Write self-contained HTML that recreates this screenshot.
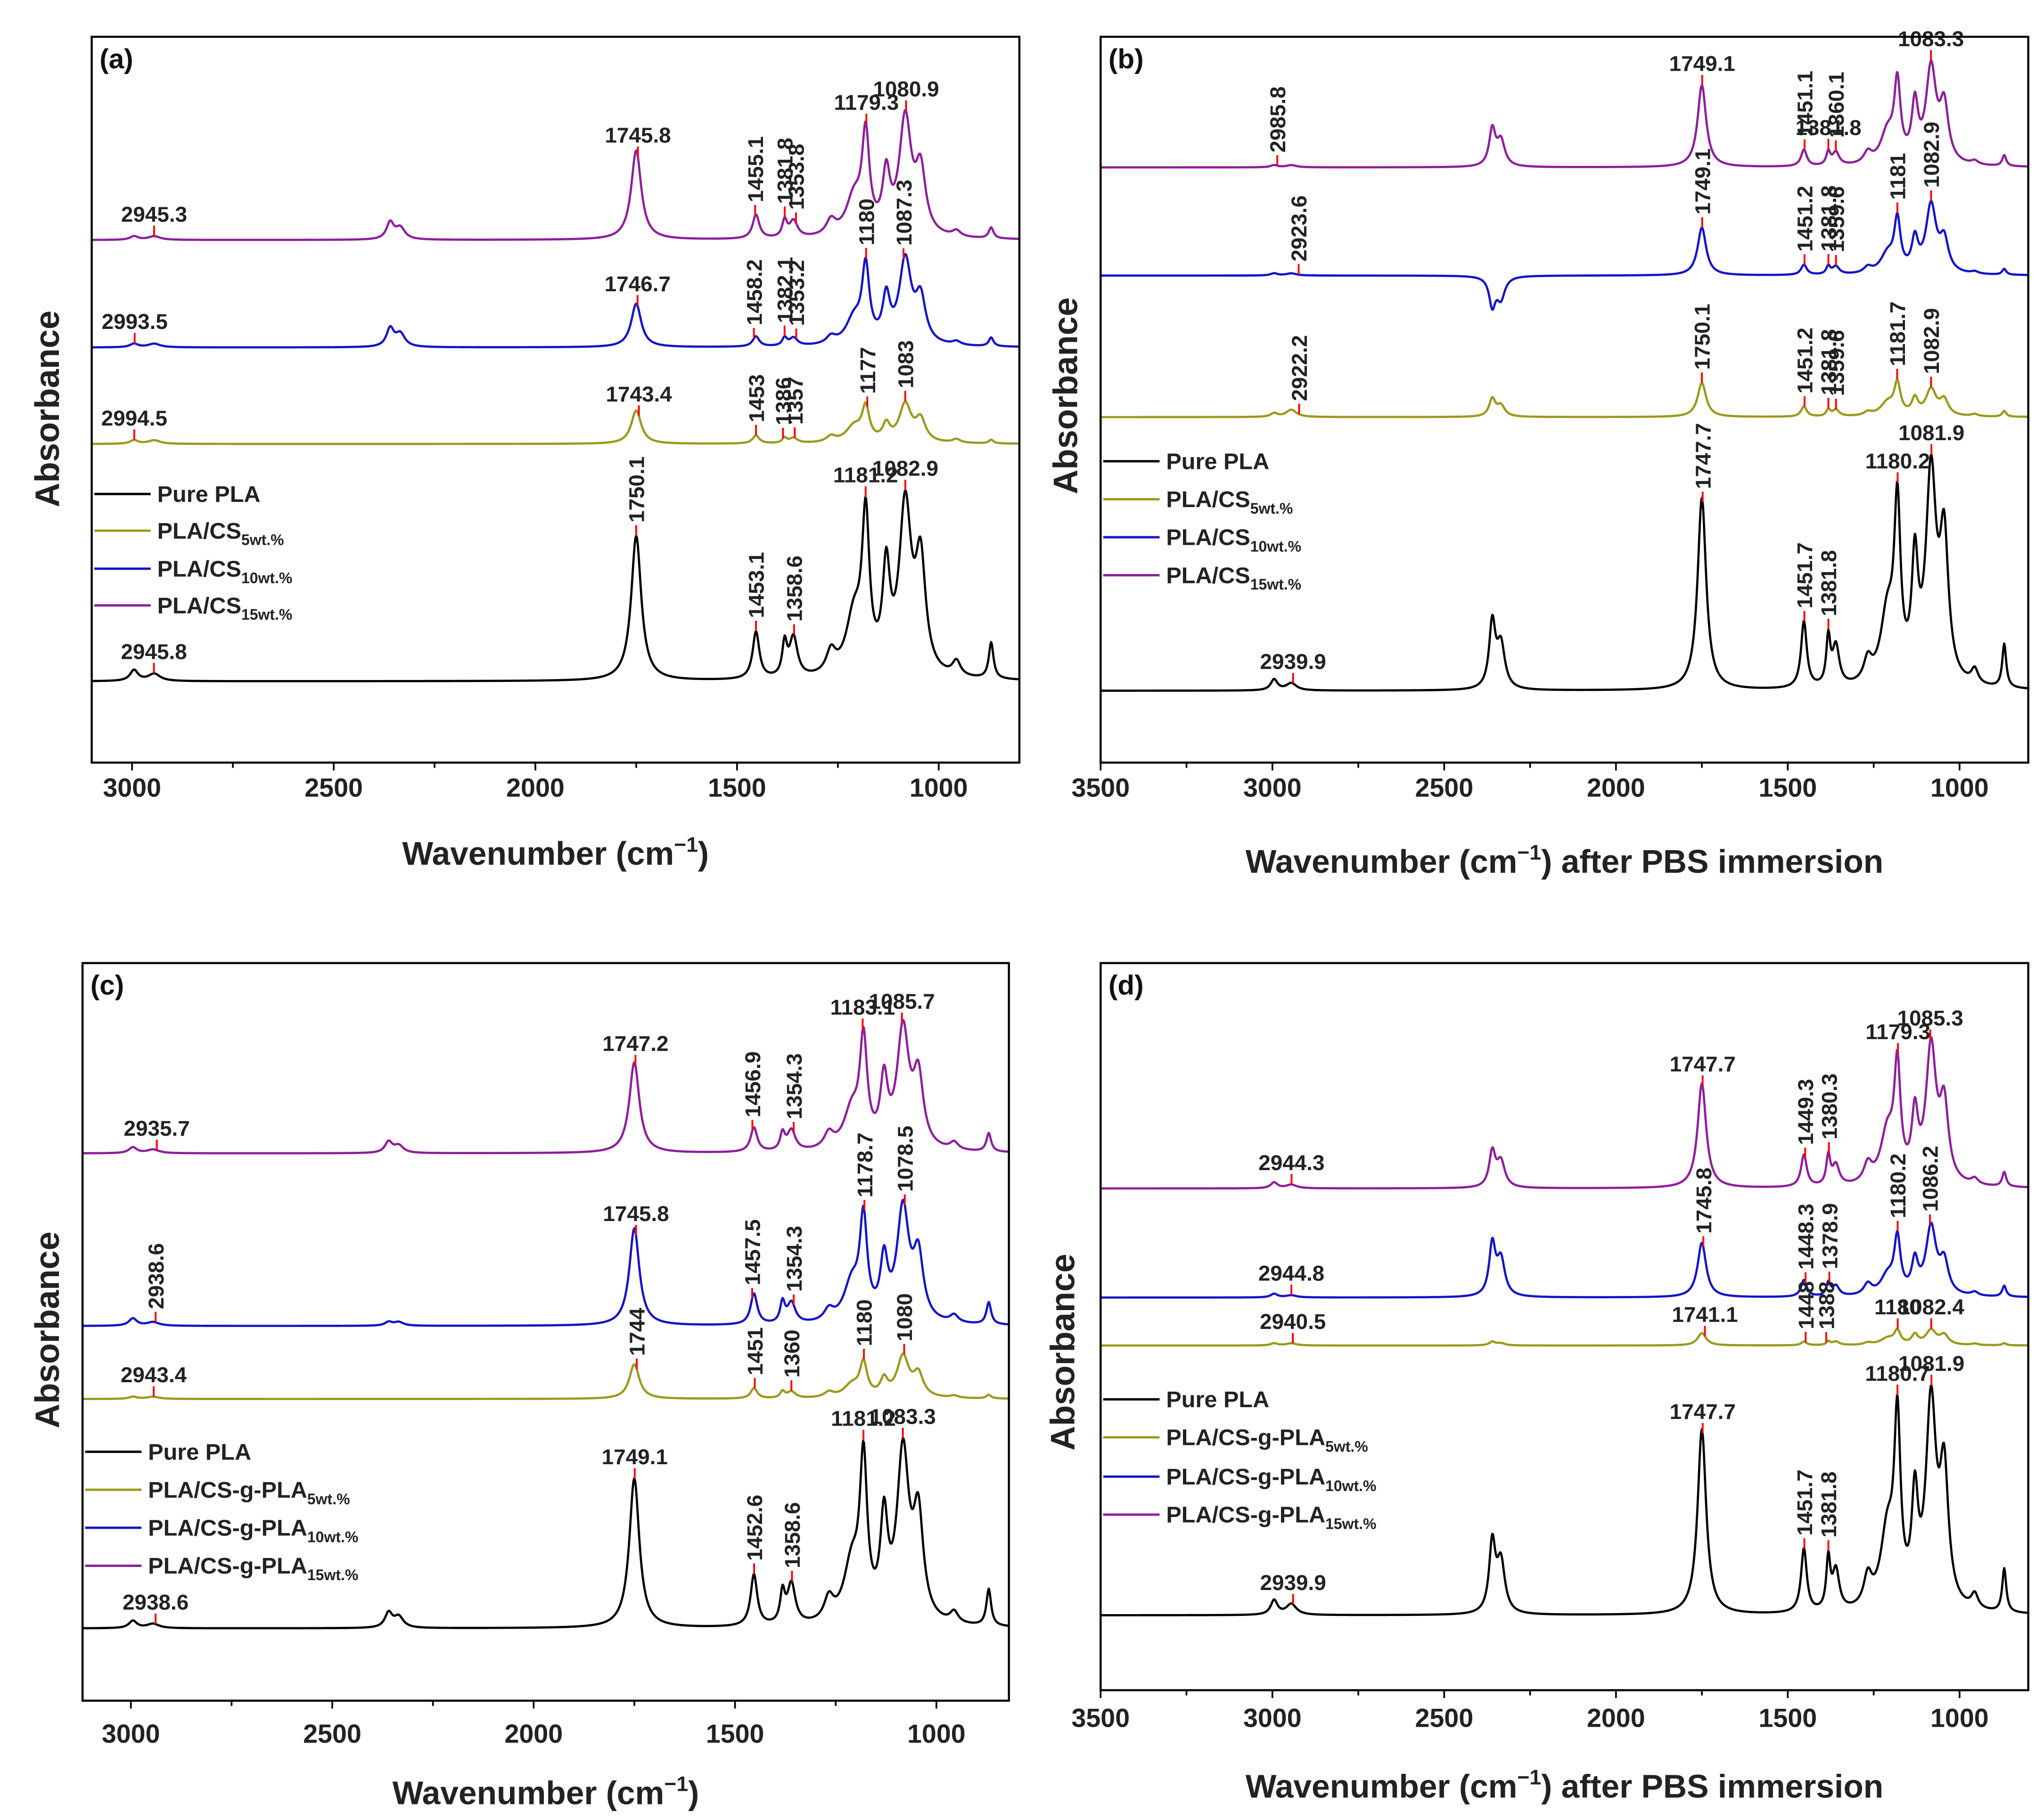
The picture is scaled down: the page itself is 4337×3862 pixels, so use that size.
<!DOCTYPE html>
<html><head><meta charset="utf-8"><style>html,body{margin:0;padding:0;background:#fff}svg{display:block}</style></head>
<body>
<svg id="fig" xmlns="http://www.w3.org/2000/svg" width="4337" height="3862" viewBox="0 0 1560 1389" font-family="Liberation Sans, Arial, sans-serif"></svg>
<script>
// Shared peak positions (cm-1) and half-widths
const peakPos = [2995,2945,2360,2335,1750,1453,1382,1360,1267,1210,1181,1130,1083,1045,956,870];
const peakWid = [12,18,11,14,15,10,7,12,14,24,11,11,18,15,12,7];
const seriesNames = ["pure-pla","olive-5wt","blue-10wt","purple-15wt"];
const seriesColors = ["#000000","#9a9a1e","#1414c8","#8e1e9c"];
// Panel A
const baseA = [11.2,43.9,57.2,72];
const hA0 = [1.5,1,0,0,20,6.5,4.5,5.5,3,8,20.5,13.5,23,15,2,5];
const hA1 = [0.5,0.5,0,0,4.6,1.1,0.7,0.7,0.8,2.2,4.5,2.2,5.2,3,0.5,0.5];
const hA2 = [0.5,0.5,2.5,1.8,6,1.4,1.1,1.1,1,3.5,10.2,6,11.5,6,0.5,1.2];
const hA3 = [0.5,0.5,2.3,1.6,12.3,3.3,2.3,2.3,2,5.2,13.2,7.8,16,8.5,0.8,1.5];
// Panel B
const baseB = [9.9,47.6,67.1,82];
const hB0 = [1.5,1,9,6,26.5,9.2,6.5,5.5,3,9.5,23,15.5,28.5,19,2,6];
const hB1 = [0.5,1,2.4,1.5,4.7,1.4,0.9,0.9,0.5,1.8,4.2,2.2,3.6,2.1,0.3,0.8];
const hB2 = [0.3,0.3,-4,-3,6.6,1.4,1.1,1.1,0.8,2.6,7,4.3,9.3,4.3,0.3,0.8];
const hB3 = [0.3,0.3,5,3.5,11.3,2.3,1.8,1.8,1.5,4.3,10.5,7.7,13,7.6,0.5,1.5];
// Panel C
const baseC = [9.8,40.9,50.8,74.2];
const hC0 = [1,0.6,2,1.5,20.3,7,4.1,5.5,3,7.8,20.7,12.9,22.7,13.6,1.5,5];
const hC1 = [0.3,0.3,0,0,4.7,1.4,0.9,0.9,0.7,1.7,4.4,2.2,5.5,3,0.3,0.5];
const hC2 = [1,0.5,0.5,0.5,13.2,4.2,2.8,2.8,1.5,5.2,13.2,7.7,15.2,8.5,1,3];
const hC3 = [0.8,0.5,1.5,1,12.3,3.3,2.3,2.8,2,5.2,14,8.6,16,9.3,1,2.5];
// Panel D
const baseD = [10.3,47.4,54,69];
const hD0 = [2,1.5,9.5,7,25.5,8.8,6.9,5.5,4,10.4,24.2,13.8,27.8,17.8,2,6];
const hD1 = [0.3,0.3,0.5,0.3,1.7,0.5,0.5,0.5,0.3,0.9,1.8,1.3,2,1.3,0.2,0.3];
const hD2 = [0.5,0.3,7,5,7.5,2.3,1.8,1.4,1.5,2.6,7.5,4.3,9.3,4.3,0.5,1.5];
const hD3 = [0.8,0.5,4.8,3.5,14.4,4.4,4,2.8,2.5,7,15,8.6,18.5,10.2,0.8,2];
// Annotations: [series, wavenumber, rotated]
const annA = [[3,2945.3,0],[3,1745.8,0],[3,1455.1,1],[3,1381.8,1],[3,1353.8,1],[3,1179.3,0],[3,1080.9,0],
 [2,2993.5,0],[2,1746.7,0],[2,1458.2,1],[2,1382.1,1],[2,1353.2,1],[2,1180,1],[2,1087.3,1],
 [1,2994.5,0],[1,1743.4,0],[1,1453,1],[1,1386,1],[1,1357,1],[1,1177,1],[1,1083,1],
 [0,2945.8,0],[0,1750.1,1],[0,1453.1,1],[0,1358.6,1],[0,1181.2,0],[0,1082.9,0]];
const annB = [[3,2985.8,1],[3,1749.1,0],[3,1451.1,1],[3,1360.1,1],[3,1381.8,0],[3,1083.3,0],
 [2,2923.6,1],[2,1749.1,1],[2,1451.2,1],[2,1381.8,1],[2,1359.6,1],[2,1181,1],[2,1082.9,1],
 [1,2922.2,1],[1,1750.1,1],[1,1451.2,1],[1,1381.8,1],[1,1359.6,1],[1,1181.7,1],[1,1082.9,1],
 [0,2939.9,0],[0,1747.7,1],[0,1451.7,1],[0,1381.8,1],[0,1180.2,0],[0,1081.9,0]];
const annC = [[3,2935.7,0],[3,1747.2,0],[3,1456.9,1],[3,1354.3,1],[3,1183.1,0],[3,1085.7,0],
 [2,2938.6,1],[2,1745.8,0],[2,1457.5,1],[2,1354.3,1],[2,1178.7,1],[2,1078.5,1],
 [1,2943.4,0],[1,1744,1],[1,1451,1],[1,1360,1],[1,1180,1],[1,1080,1],
 [0,2938.6,0],[0,1749.1,0],[0,1452.6,1],[0,1358.6,1],[0,1181.2,0],[0,1083.3,0]];
const annD = [[3,2944.3,0],[3,1747.7,0],[3,1449.3,1],[3,1380.3,1],[3,1179.3,0],[3,1085.3,0],
 [2,2944.8,0],[2,1745.8,1],[2,1448.3,1],[2,1378.9,1],[2,1180.2,1],[2,1086.2,1],
 [1,2940.5,0],[1,1741.1,0],[1,1448,1],[1,1388,1],[1,1180,0],[1,1082.4,0],
 [0,2939.9,0],[0,1747.7,0],[0,1451.7,1],[0,1381.8,1],[0,1180.7,0],[0,1081.9,0]];
const xTicks = [3500,3000,2500,2000,1500,1000];
const legendA = [["Pure PLA",""],["PLA/CS","5wt.%"],["PLA/CS","10wt.%"],["PLA/CS","15wt.%"]];
const legendC = [["Pure PLA",""],["PLA/CS-g-PLA","5wt.%"],["PLA/CS-g-PLA","10wt.%"],["PLA/CS-g-PLA","15wt.%"]];

const NS="http://www.w3.org/2000/svg";
const svg=document.getElementById('fig');
function mk(tag,attrs,parent){const e=document.createElementNS(NS,tag);for(const k in attrs)e.setAttribute(k,attrs[k]);(parent||svg).appendChild(e);return e;}

const panels=[
 {id:'a',x0:70,x1:778,y0:28,y1:582,hi:3100,lo:800,base:baseA,h:[hA0,hA1,hA2,hA3],ann:annA,leg:legendA,legX:72,legY:[377,405,434,462],tickY:608,titleY:660,title:0,absX:36,absY:312},
 {id:'b',x0:840,x1:1548,y0:28,y1:582,hi:3500,lo:800,base:baseB,h:[hB0,hB1,hB2,hB3],ann:annB,leg:legendA,legX:842,legY:[352,381,410,439],tickY:608,titleY:666,title:1,absX:813,absY:302},
 {id:'c',x0:63,x1:770,y0:735,y1:1298,hi:3120,lo:820,base:baseC,h:[hC0,hC1,hC2,hC3],ann:annC,leg:legendC,legX:65,legY:[1108,1137,1166,1195],tickY:1330,titleY:1377,title:0,absX:36,absY:1015},
 {id:'d',x0:840,x1:1548,y0:735,y1:1290,hi:3500,lo:800,base:baseD,h:[hD0,hD1,hD2,hD3],ann:annD,leg:legendC,legX:842,legY:[1068,1097,1127,1156],tickY:1318,titleY:1372,title:1,absX:811,absY:1032}
];

function specVal(p,s,x){let v=p.base[s];const h=p.h[s];for(let i=0;i<peakPos.length;i++){const d=(x-peakPos[i])/peakWid[i];v+=h[i]/(1+d*d);}return v;}

panels.forEach(p=>{
 const g=mk('g',{});
 
 
 const X=w=>p.x0+(p.hi-w)/(p.hi-p.lo)*(p.x1-p.x0);
 const Y=v=>p.y1-v/100*(p.y1-p.y0);
 for(let s=3;s>=0;s--){
  let d='';
  for(let w=p.hi;w>=p.lo;w-=2){d+=(d?'L':'M')+X(w).toFixed(2)+','+Y(specVal(p,s,w)).toFixed(2);}
  const path=mk('path',{d:d,fill:'none',stroke:seriesColors[s],'stroke-width':1.7,'stroke-linejoin':'round'},g);
  
  
 }
 p.ann.forEach(a=>{
  const [s,w,rot]=a;const x=X(w);const yv=Y(specVal(p,s,w));
  const tk=mk('line',{x1:x,x2:x,y1:yv,y2:yv-8,stroke:'#ff0000','stroke-width':1.4},g);
  
  
  let t;
  if(rot){t=mk('text',{x:0,y:0,transform:`translate(${x+6},${yv-10}) rotate(-90)`,'font-size':16.5,'font-weight':'bold',fill:'#222'},g);}
  else{t=mk('text',{x:x,y:yv-11,'text-anchor':'middle','font-size':16.5,'font-weight':'bold',fill:'#222'},g);}
  t.textContent=String(w);
  
  
 });
 const fr=mk('rect',{x:p.x0,y:p.y0,width:p.x1-p.x0,height:p.y1-p.y0,fill:'none',stroke:'#000','stroke-width':1.6},g);
 
 
 for(let w=3500;w>=750;w-=250){
  if(w>p.hi||w<p.lo)continue;const x=X(w);const major=w%500===0;
  const l=mk('line',{x1:x,x2:x,y1:p.y1,y2:p.y1+(major?6:4),stroke:'#000','stroke-width':1.3},g);
  
  
 }
 xTicks.forEach(w=>{
  if(w>p.hi||w<p.lo)return;
  const t=mk('text',{x:X(w),y:p.tickY,'text-anchor':'middle','font-size':20,'font-weight':'bold',fill:'#222'},g);
  t.textContent=w;
  
  
 });
 const xt=mk('text',{x:(p.x0+p.x1)/2,y:p.titleY,'text-anchor':'middle','font-size':25,'font-weight':'bold',fill:'#222'},g);
 xt.innerHTML='Wavenumber (cm<tspan dy="-10" font-size="16">−1</tspan><tspan dy="10">)</tspan>'+(p.title?' after PBS immersion':'');
 
 
 const yt=mk('text',{x:0,y:0,transform:`translate(${p.absX+9},${p.absY}) rotate(-90)`,'text-anchor':'middle','font-size':26,'font-weight':'bold',fill:'#222'},g);
 yt.textContent='Absorbance';
 
 
 const pl=mk('text',{x:p.x0+6,y:p.y0+24,'font-size':21,'font-weight':'bold',fill:'#111'},g);
 pl.textContent='('+p.id+')';
 
 
 p.leg.forEach((e,i)=>{
  const y=p.legY[i];
  const ln=mk('line',{x1:p.legX,x2:p.legX+43,y1:y,y2:y,stroke:seriesColors[i],'stroke-width':1.8},g);
  
  
  const t=mk('text',{x:p.legX+48,y:y+6,'font-size':17.5,'font-weight':'bold',fill:'#222'},g);
  t.innerHTML=e[0]+(e[1]?'<tspan dy="5" font-size="11.5">'+e[1]+'</tspan>':'');
  
  
 });
});
</script>
</body></html>
